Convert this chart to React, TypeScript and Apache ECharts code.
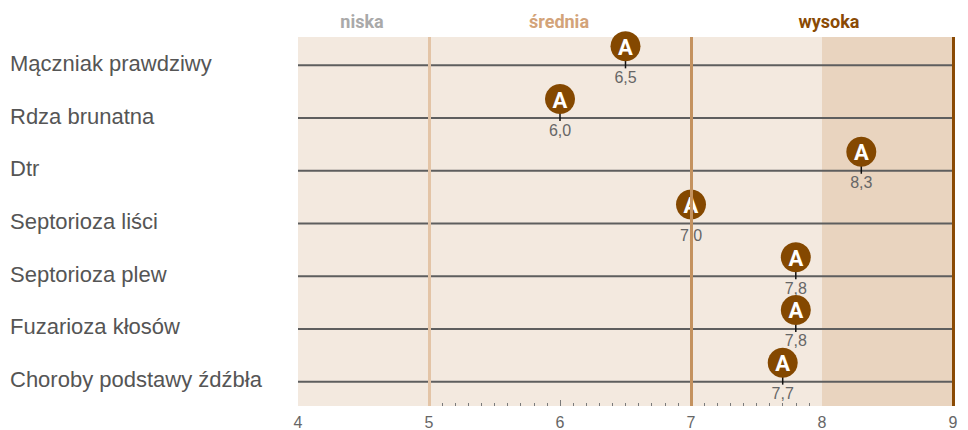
import React, { useEffect, useRef } from "react";
import * as echarts from "echarts";

const categories = [
  "Mączniak prawdziwy",
  "Rdza brunatna",
  "Dtr",
  "Septorioza liści",
  "Septorioza plew",
  "Fuzarioza kłosów",
  "Choroby podstawy źdźbła",
];
const values = [6.5, 6.0, 8.3, 7.0, 7.8, 7.8, 7.7];
const markerLetter = "A";
const xMin = 4;
const xMax = 9;
const majorTickValues = [5, 6, 7, 8, 9];
const minorTickValues = [
  5.1, 5.2, 5.3, 5.4, 5.5, 5.6, 5.7, 5.8, 5.9,
  6.1, 6.2, 6.3, 6.4, 6.5, 6.6, 6.7, 6.8, 6.9,
  7.1, 7.2, 7.3, 7.4, 7.5, 7.6, 7.7, 7.8, 7.9,
  8.1, 8.2, 8.3, 8.4, 8.5, 8.6, 8.7, 8.8, 8.9,
];
const zoneNames = ["niska", "średnia", "wysoka"];
const zoneColors = ["#a9a9a9", "#d3a379", "#8a4a04"];
const zoneLabelX = [362, 559, 829];
const zoneLines = [5, 7, 9];
const zoneLineColors = ["#e3c4a6", "#c4925f", "#8a4a04"];
const highBand = [8, 9];

export default function App() {
  const ref = useRef<HTMLDivElement>(null);
  useEffect(() => {
    document.body.style.margin = "0";
    const chart = echarts.init(ref.current!, null, { renderer: "svg" });
    const rowOffset = 2;
    chart.setOption({
      animation: false,
      grid: {
        left: 298,
        right: 15,
        top: 37,
        bottom: 23,
        show: true,
        backgroundColor: "#f3e9df",
        borderWidth: 0,
      },
      xAxis: [
        {
          type: "value",
          min: xMin,
          max: xMax,
          interval: 1,
          axisLine: { show: false },
          splitLine: { show: false },
          axisTick: {
            show: true,
            inside: true,
            length: 6,
            customValues: majorTickValues,
            lineStyle: { color: "#7a7a7a", width: 1 },
          },
          axisLabel: {
            fontSize: 16,
            color: "#666",
            margin: 8,
            fontFamily: "Liberation Sans",
          },
        },
        {
          type: "value",
          position: "bottom",
          offset: 0,
          min: xMin,
          max: xMax,
          interval: 1,
          axisLine: { show: false },
          splitLine: { show: false },
          axisLabel: { show: false },
          axisTick: {
            show: true,
            inside: true,
            length: 3,
            customValues: minorTickValues,
            lineStyle: { color: "#7a7a7a", width: 1 },
          },
        },
      ],
      yAxis: {
        type: "category",
        inverse: true,
        data: categories,
        axisLine: { show: false },
        axisTick: { show: false },
        splitLine: { show: false },
        axisLabel: {
          align: "left",
          margin: 288,
          fontSize: 22,
          color: "#555",
          fontFamily: "Liberation Sans",
        },
      },
      graphic: zoneNames.map((name, i) => ({
        type: "text",
        x: zoneLabelX[i],
        y: 21,
        style: {
          text: name,
          fill: zoneColors[i],
          font: "bold 18px Roboto",
          textAlign: "center",
          textVerticalAlign: "middle",
        },
      })),
      series: [
        {
          type: "line",
          xAxisIndex: 0,
          data: [],
          z: 1,
          silent: true,
          markArea: {
            silent: true,
            itemStyle: { color: "#e9d4bf" },
            data: [[{ xAxis: highBand[0] }, { xAxis: highBand[1] }]],
          },
          markLine: {
            silent: true,
            symbol: "none",
            label: { show: false },
            data: zoneLines.map((v, i) => ({
              xAxis: v,
              lineStyle: { color: zoneLineColors[i], width: 3, type: "solid" },
            })),
          },
        },
        {
          type: "custom",
          xAxisIndex: 0,
          z: 3,
          data: values.map((v, i) => [v, i]),
          renderItem: (params: any, api: any) => {
            const pt = api.coord([api.value(0), api.value(1)]);
            const x = pt[0];
            const y = pt[1] + rowOffset;
            const cs = params.coordSys;
            const v = api.value(0) as number;
            return {
              type: "group",
              children: [
                {
                  type: "line",
                  shape: { x1: cs.x, y1: y, x2: cs.x + cs.width, y2: y },
                  style: { stroke: "#5e5e5e", lineWidth: 2 },
                },
                {
                  type: "line",
                  shape: { x1: x, y1: y - 5, x2: x, y2: y + 3 },
                  style: { stroke: "#111", lineWidth: 1.5 },
                },
                {
                  type: "circle",
                  shape: { cx: x, cy: y - 19, r: 15 },
                  style: { fill: "#844800" },
                },
                {
                  type: "text",
                  x: x,
                  y: y - 18,
                  style: {
                    text: markerLetter,
                    fill: "#fff",
                    font: "bold 22px Roboto",
                    textAlign: "center",
                    textVerticalAlign: "middle",
                  },
                },
                {
                  type: "text",
                  x: x,
                  y: y + 4,
                  style: {
                    text: v.toFixed(1).replace(".", ","),
                    fill: "#666",
                    font: "16px Liberation Sans",
                    textAlign: "center",
                    textVerticalAlign: "top",
                  },
                },
              ],
            };
          },
        },
      ],
    });
    return () => chart.dispose();
  }, []);
  return <div ref={ref} style={{ width: 968, height: 430 }} />;
}
